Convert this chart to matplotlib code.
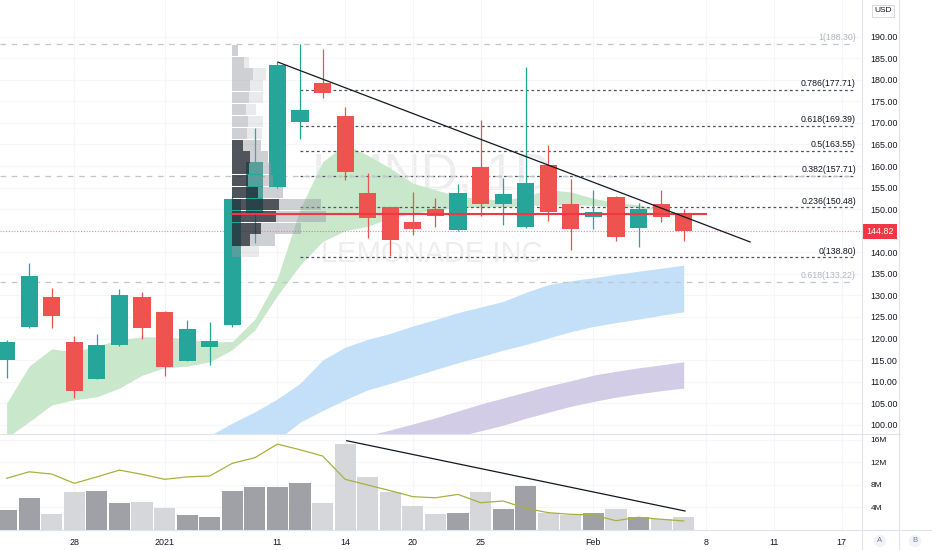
import numpy as np
import matplotlib.pyplot as plt
from matplotlib.lines import Line2D

plt.rcParams['font.family'] = ['Liberation Sans', 'DejaVu Sans']

# LMND daily, Dec 22 2020 .. Feb 5 2021 (one entry per trading day)
opens  = [115.0, 122.75, 129.6, 119.1, 110.6, 118.4, 129.6, 126.2, 114.8, 118.1,
          123.1, 148.6, 155.2, 170.1, 179.2, 171.6, 153.7, 150.4, 147.0, 150.1,
          145.2, 159.8, 151.2, 145.9, 160.2, 151.2, 148.25, 152.9, 145.6, 151.2, 149.2]
highs  = [119.7, 137.45, 131.8, 120.6, 121.0, 131.4, 130.7, 126.3, 124.3, 123.8,
          153.0, 168.8, 184.2, 188.3, 187.1, 173.6, 158.3, 150.5, 153.9, 152.5,
          155.8, 170.7, 157.3, 183.0, 164.9, 157.0, 154.45, 153.0, 151.4, 154.45, 150.0]
lows   = [110.8, 122.5, 122.5, 106.1, 110.5, 118.3, 119.8, 111.2, 114.7, 113.9,
          122.6, 142.1, 155.0, 166.2, 175.7, 156.8, 143.2, 139.1, 144.0, 145.8,
          145.0, 148.3, 146.3, 145.6, 147.3, 140.5, 145.4, 142.6, 141.3, 147.0, 142.7]
closes = [119.1, 134.6, 125.2, 107.8, 118.4, 130.0, 122.5, 113.5, 122.1, 119.5,
          152.3, 161.0, 183.4, 173.0, 176.9, 158.7, 147.9, 142.85, 145.4, 148.5,
          153.7, 151.2, 153.5, 156.1, 149.4, 145.4, 149.3, 143.6, 150.0, 148.25, 144.82]

# volume in millions + its moving average
volume = [3.54, 5.6, 2.9, 6.67, 6.9, 4.84, 4.96, 3.84, 2.66, 2.36,
          6.84, 7.55, 7.6, 8.3, 4.72, 15.2, 9.44, 6.67, 4.25, 2.9,
          3.07, 6.7, 3.66, 7.85, 2.95, 2.66, 3.0, 3.72, 2.36, 1.9, 2.24]
vol_ma = [9.15, 10.3, 9.9, 8.26, 9.4, 10.6, 9.85, 8.97, 9.4, 9.56,
          11.8, 12.8, 15.2, 14.2, 13.1, 8.97, 7.96, 6.96, 5.9, 5.7,
          6.3, 4.83, 5.13, 3.84, 3.07, 2.78, 2.66, 1.65, 2.25, 1.9, 1.6]

# EMA clouds (upper / lower edge)
green_hi = [105.0, 113.6, 117.6, 116.9, 118.3, 119.7, 120.4, 120.4, 119.9, 119.2,
            119.3, 124.5, 134.0, 150.0, 161.0, 165.0, 162.5, 159.5, 156.0, 154.5,
            153.0, 152.5, 152.0, 153.0, 154.5, 154.0, 152.5, 151.5, 151.0, 150.0, 149.0]
green_lo = [97.0, 100.7, 104.6, 105.8, 106.5, 108.5, 111.5, 113.2, 113.6, 114.6,
            117.4, 122.0, 130.0, 137.0, 142.5, 145.0, 146.0, 148.0, 149.0, 149.8,
            150.3, 150.5, 150.6, 150.8, 151.0, 151.0, 150.9, 150.6, 150.3, 149.8, 149.0]
nan = np.nan
blue_hi = [nan]*9 + [97.5, 100.4, 103.0, 106.0, 109.6, 115.0, 118.0, 119.8, 121.2, 122.9,
                     124.4, 126.0, 127.3, 128.6, 130.7, 132.5, 133.4, 134.1, 134.9, 135.6,
                     136.3, 137.0]
blue_lo = [nan]*9 + [85.0, 89.0, 93.0, 96.5, 100.6, 103.3, 105.8, 108.1, 109.6, 111.2,
                     112.8, 114.4, 115.8, 117.3, 118.6, 120.1, 121.6, 122.8, 123.7, 124.5,
                     125.4, 126.2]
purple_hi = [nan]*16 + [97.5, 98.8, 100.2, 101.6, 103.2, 104.8, 106.2, 107.6, 109.0,
                        110.2, 111.5, 112.4, 113.2, 113.9, 114.6]
purple_lo = [nan]*16 + [88.0, 90.0, 92.5, 95.0, 97.3, 98.6, 99.9, 101.5, 102.9,
                        104.3, 105.4, 106.4, 107.2, 107.9, 108.5]

# visible-range volume profile, rows from 188.30 down to 138.80
vp_top = 188.30
vp_row = 2.75
vp_up = [5.6, 11.3, 20.6, 18.0, 16.6, 13.3, 15.6, 14.6, 10.6, 17.3,
         16.6, 16.0, 25.6, 46.6, 44.0, 29.0, 18.0, 9.0]
vp_dn = [0.0, 5.3, 13.4, 12.6, 14.0, 10.7, 15.0, 15.4, 18.4, 18.3,
         22.4, 24.6, 25.0, 42.4, 50.0, 40.0, 24.3, 18.0]
vp_value_area = range(8, 17)
poc_price = 148.9

fib_levels = [188.30, 177.71, 169.39, 163.55, 157.71, 150.48, 138.80, 133.22]
fib_names  = ['1', '0.786', '0.618', '0.5', '0.382', '0.236', '0', '0.618']
fib_faint  = [True, False, False, False, False, False, False, True]
faint_full = [188.30, 157.71, 133.22]

last_price = 144.82
price_trend = ([12.02, 32.94], [184.1, 142.4])
vol_trend = ([15.07, 30.06], [15.8, 3.36])

tick_idx    = [3, 7, 12, 15, 18, 21, 26, 31, 34, 37]
tick_labels = ['28', '2021', '11', '14', '20', '25', 'Feb', '8', '11', '17']
# 145.00 sits under the last-price tag, so it is left out
price_ticks = [v for v in range(100, 195, 5) if abs(v - last_price) > 2]
vol_ticks = [4, 8, 12, 16]

UP, DOWN = '#26a69a', '#ef5350'
TXT = '#131722'
BORDER = '#e0e3eb'

W, H = 932, 550
fig = plt.figure(figsize=(W / 100, H / 100), dpi=100)
ax = fig.add_axes([0, 116 / H, 862 / W, 434 / H])
axv = fig.add_axes([0, 20 / H, 862 / W, 96 / H], sharex=ax)

x = np.arange(len(opens))
o, h, l, c = map(np.array, (opens, highs, lows, closes))
up = c >= o
ccol = np.where(up, UP, DOWN)

# watermark
ax.text(0.501, 0.594, 'LMND, 1D', transform=ax.transAxes, ha='center', va='center',
        fontsize=37, color=TXT, alpha=0.075, zorder=0)
ax.text(0.501, 0.415, 'LEMONADE INC', transform=ax.transAxes, ha='center', va='center',
        fontsize=21, color=TXT, alpha=0.075, zorder=0)

# clouds
ax.fill_between(x, green_lo, green_hi, color='#c9e7cb', lw=0, zorder=1)
ax.fill_between(x, blue_lo, blue_hi, color='#c3e0f8', lw=0, zorder=1)
ax.fill_between(x, purple_lo, purple_hi, color='#d2cce6', lw=0, zorder=1)

# fib retracement
for lvl, name, faint in zip(fib_levels, fib_names, fib_faint):
    if not faint:
        ax.plot([13, 37.6], [lvl, lvl], color='#50535e', lw=0.9, dashes=(2.2, 2.2), zorder=2)
    ax.text(37.63, lvl + 0.35, f'{name}({lvl:.2f})', ha='right', va='bottom', fontsize=6.3,
            color='#b2b5be' if faint else TXT, zorder=6)
for lvl in faint_full:
    ax.plot([-0.3, 37.6], [lvl, lvl], color='#c3c5cc', lw=0.9, dashes=(4.5, 4.5), zorder=2)

ax.axhline(last_price, color='#f23645', lw=0.8, ls=(0, (1, 1.5)), alpha=0.6, zorder=2)

# candles
ax.vlines(x, l, h, colors=ccol, lw=0.9, zorder=3)
body = np.maximum(np.abs(c - o), 0.3)
ax.bar(x, body, bottom=np.minimum(o, c), width=0.76, color=ccol, lw=0, zorder=3)

# volume profile on top of candles
vp_scale = 1 / 22.57
for k, (u, d) in enumerate(zip(vp_up, vp_dn)):
    y0 = vp_top - (k + 1) * vp_row
    if k in vp_value_area:
        ax.barh(y0, u * vp_scale, height=vp_row * 0.94, left=10, align='edge',
                color='#2a2e39', alpha=0.82, lw=0, zorder=4)
        ax.barh(y0, d * vp_scale, height=vp_row * 0.94, left=10 + u * vp_scale, align='edge',
                color='#9598a1', alpha=0.45, lw=0, zorder=4)
    else:
        ax.barh(y0, u * vp_scale, height=vp_row * 0.94, left=10, align='edge',
                color='#9598a1', alpha=0.45, lw=0, zorder=4)
        ax.barh(y0, d * vp_scale, height=vp_row * 0.94, left=10 + u * vp_scale, align='edge',
                color='#9598a1', alpha=0.2, lw=0, zorder=4)

ax.plot([10, 31], [poc_price, poc_price], color='#f23645', lw=1.5, zorder=5)
ax.plot(*price_trend, color=TXT, lw=0.9, zorder=5)

ax.set_xlim(-0.292, 37.9)
ax.set_ylim(97.86, 198.5)
ax.yaxis.tick_right()
ax.set_yticks(price_ticks)
ax.set_yticklabels([f'{v:.2f}' for v in price_ticks])
ax.tick_params(axis='y', length=0, pad=6, labelsize=6.4, labelcolor=TXT)
ax.set_xticks(tick_idx)
ax.tick_params(axis='x', length=0, labelbottom=False)
ax.grid(color='#f5f6f9', lw=0.8)
ax.set_axisbelow(True)
for s in ax.spines.values():
    s.set_visible(False)

# last price tag
ax.annotate(f'{last_price:.2f}', xy=(1, last_price), xycoords=('axes fraction', 'data'),
            xytext=(2.8, 0), textcoords='offset points', ha='left', va='center',
            fontsize=6.4, color='white', annotation_clip=False, zorder=10,
            bbox=dict(boxstyle='square,pad=0.35', fc='#f23645', ec='none'))

# volume pane
vcol = np.where(up, '#a0a1a6', '#d6d7db')
axv.bar(x, volume, width=0.94, color=vcol, lw=0, zorder=2)
axv.plot(x, vol_ma, color='#a9b13d', lw=0.9, zorder=3)
axv.plot(*vol_trend, color=TXT, lw=0.9, zorder=3)
axv.set_ylim(0, 16.99)
axv.yaxis.tick_right()
axv.set_yticks(vol_ticks)
axv.set_yticklabels([f'{v}M' for v in vol_ticks])
axv.tick_params(axis='y', length=0, pad=6, labelsize=6.0, labelcolor=TXT)
axv.set_xticks(tick_idx)
axv.set_xticklabels(tick_labels)
axv.tick_params(axis='x', length=0, pad=6, labelsize=6.4, labelcolor=TXT)
axv.grid(color='#f5f6f9', lw=0.8)
axv.set_axisbelow(True)
for s in axv.spines.values():
    s.set_visible(False)

# pane borders
for xs, ys in [([862, 862], [0, H]), ([899, 899], [0, H]),
               ([0, 900], [434, 434]), ([0, W], [530, 530])]:
    fig.add_artist(Line2D([v / W for v in xs], [1 - v / H for v in ys],
                          transform=fig.transFigure, color=BORDER, lw=0.8))

fig.text(883 / W, 1 - 11 / H, 'USD', ha='center', va='center', fontsize=6, color=TXT,
         bbox=dict(boxstyle='square,pad=0.3', fc='white', ec='#d1d4dc', lw=0.6))
for lab, px in [('A', 880), ('B', 915)]:
    fig.text(px / W, 1 - 541 / H, lab, ha='center', va='center', fontsize=5.5, color='#787b86',
             bbox=dict(boxstyle='circle,pad=0.35', fc='#f0f3fa', ec='none'))

fig.savefig('out.png', dpi=100, facecolor='white')
